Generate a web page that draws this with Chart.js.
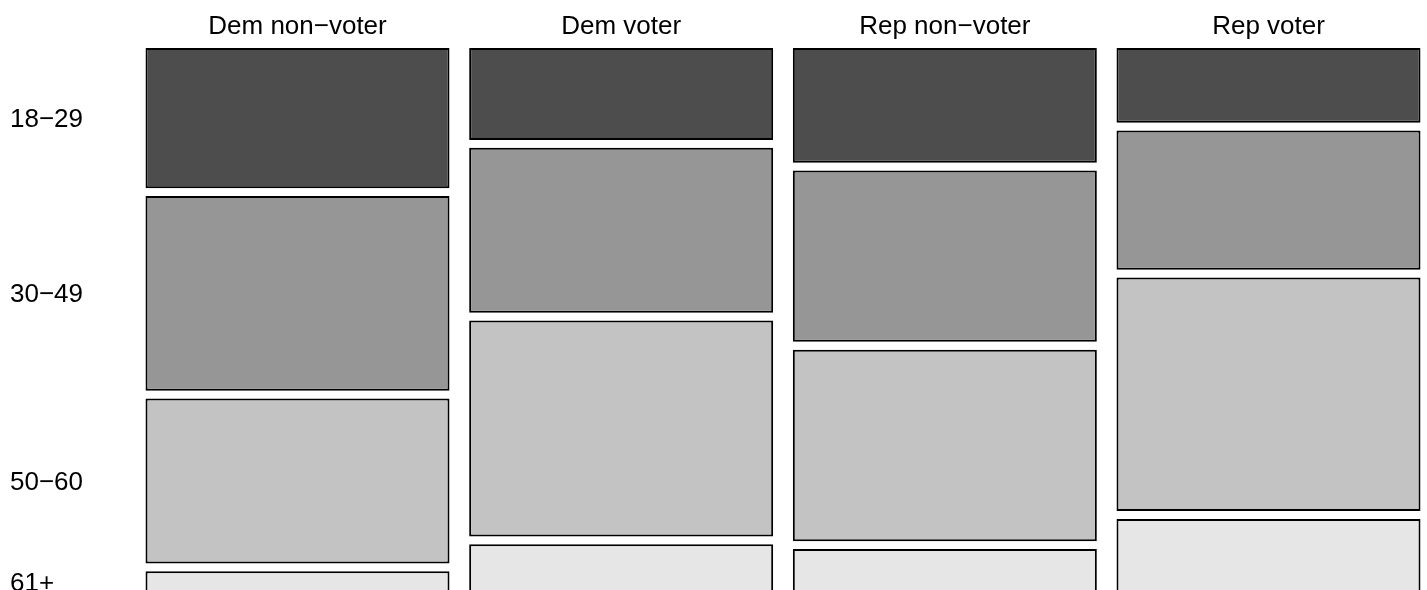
<!DOCTYPE html>
<html>
<head>
<meta charset="utf-8">
<script src="https://cdn.jsdelivr.net/npm/chart.js@4/dist/chart.umd.min.js"></script>
<style>
	html, body { margin: 0; padding: 0; background: #ffffff; overflow: hidden; }
	#wrap { position: relative; width: 1427px; height: 590px; }
</style>
</head>
<body>
<div id="wrap"><canvas id="mosaic"></canvas></div>
<script>
	// =====================================
	// DATA (share of each age group within a column, %)
	// =====================================

	const partyLabels = ['Dem non\u2212voter', 'Dem voter', 'Rep non\u2212voter', 'Rep voter'];
	const ageLabels = ['18\u221229', '30\u221249', '50\u221260', '61+'];

	const age18to29 = [27.0, 17.7, 22.1, 14.4];
	const age30to49 = [37.5, 31.8, 33.0, 26.8];
	const age50to60 = [31.8, 41.6, 36.9, 45.0];
	const age61plus = [4.1, 9.3, 8.4, 14.2];

	const ageSeries = [age18to29, age30to49, age50to60, age61plus];
	const fillColors = ['#4D4D4D', '#969696', '#C3C3C3', '#E6E6E6'];

	// spacing between stacked cells, in the same units as the shares
	const cellGap = 1.5;

	// =====================================
	// BUILD FLOATING CELLS
	// =====================================

	const buildRanges = (k) =>
		partyLabels.map((_, j) => {
			let start = k * cellGap;
			for (let i = 0; i < k; i++) start += ageSeries[i][j];
			return [start, start + ageSeries[k][j]];
		});

	// y label positions follow the first column, like mosaicplot does
	const rowCenters = ageSeries.map((_, k) => {
		const [a, b] = buildRanges(k)[0];
		return (a + b) / 2;
	});

	const fontFamily = '"Liberation Sans", Arial, Helvetica, sans-serif';

	new Chart(document.getElementById('mosaic'), {
		type: 'bar',
		data: {
			labels: partyLabels,
			datasets: ageSeries.map((_, k) => ({
				label: ageLabels[k],
				data: buildRanges(k),
				backgroundColor: fillColors[k],
				borderColor: '#000000',
				borderWidth: 2,
				borderSkipped: false,
				inflateAmount: 0,
				barThickness: 304,
				grouped: false,
				clip: false,
			})),
		},
		options: {
			responsive: true,
			maintainAspectRatio: false,
			animation: false,
			layout: {
				padding: { left: 10, right: 158.5, top: 0, bottom: 0 },
			},
			plugins: {
				legend: { display: false },
				tooltip: { enabled: false },
			},
			scales: {
				x: {
					type: 'category',
					position: 'top',
					offset: false,
					grid: { display: false, drawTicks: false },
					border: { display: false },
					ticks: {
						color: '#000000',
						padding: 6,
						maxRotation: 0,
						autoSkip: false,
						font: { family: fontFamily, size: 26 },
					},
					afterFit: (axis) => {
						axis.height = 48;
						axis.paddingLeft = 0;
						axis.paddingRight = 0;
					},
				},
				y: {
					type: 'linear',
					reverse: true,
					min: 0,
					max: 104.4,
					grid: { display: false, drawTicks: false },
					border: { display: false },
					afterBuildTicks: (axis) => {
						axis.ticks = rowCenters.map((v) => ({ value: v }));
					},
					ticks: {
						color: '#000000',
						crossAlign: 'far',
						autoSkip: false,
						labelOffset: 2,
						font: { family: fontFamily, size: 26 },
						callback: (value, index) => ageLabels[index],
					},
					afterFit: (axis) => {
						axis.width = 287.5;
						axis.paddingTop = 0;
						axis.paddingBottom = 0;
					},
				},
			},
		},
	});
</script>
</body>
</html>
